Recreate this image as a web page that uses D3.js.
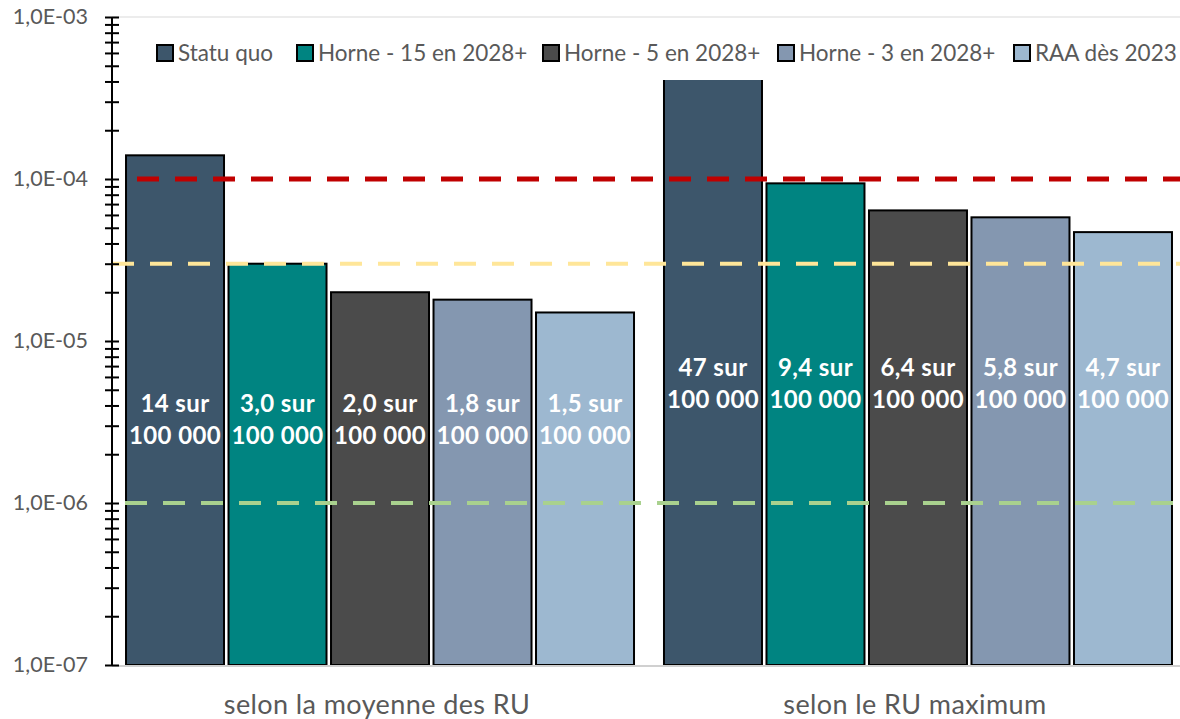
<!DOCTYPE html>
<html><head><meta charset="utf-8">
<script src="https://cdn.jsdelivr.net/npm/d3@7"></script>
<style>
html,body{margin:0;padding:0;background:#fff;}
svg{display:block;font-family:Lato,'Open Sans',sans-serif;}
</style></head>
<body><svg id="chart" width="1180" height="719"></svg>
<script>
const groups = ["selon la moyenne des RU", "selon le RU maximum"];
const series = ["Statu quo", "Horne - 15 en 2028+", "Horne - 5 en 2028+", "Horne - 3 en 2028+", "RAA dès 2023"];
const colors = ["#3d566b", "#008481", "#4b4b4b", "#8497b0", "#9db8d0"];
const valuesMoyenne = [1.4e-4, 3.0e-5, 2.0e-5, 1.8e-5, 1.5e-5];
const valuesMaximum = [4.7e-4, 9.4e-5, 6.4e-5, 5.8e-5, 4.7e-5];
const labelsMoyenne = ["14 sur", "3,0 sur", "2,0 sur", "1,8 sur", "1,5 sur"];
const labelsMaximum = ["47 sur", "9,4 sur", "6,4 sur", "5,8 sur", "4,7 sur"];
const labelDenominator = "100 000";
const refLineValues = [1.0e-4, 3.0e-5, 1.0e-6];
const refLineColors = ["#c00000", "#ffe699", "#a9d18e"];
const yDomain = [1e-7, 1e-3];

const svg = d3.select("#chart");
const M = {left:112, right:1186, top:17, bottom:665};
const y = d3.scaleLog().domain(yDomain).range([M.bottom, M.top]);
const x0 = d3.scaleBand().domain(groups).range([M.left, M.right]).paddingInner(0.052).paddingOuter(0.0242);
const x1 = d3.scaleBand().domain(series).range([0, x0.bandwidth()]).paddingInner(0.0244).paddingOuter(0);

const allValues = [valuesMoyenne, valuesMaximum];
const allLabels = [labelsMoyenne, labelsMaximum];

// top gridline
svg.append("line").attr("x1", M.left).attr("x2", 1180).attr("y1", y(1e-3)).attr("y2", y(1e-3))
  .attr("stroke", "#d9d9d9").attr("stroke-width", 1);

// bars
groups.forEach((g, gi) => {
  const gEl = svg.append("g").attr("transform", `translate(${x0(g)},0)`);
  gEl.selectAll("rect").data(allValues[gi]).join("rect")
    .attr("x", (d, i) => x1(series[i]) + 1)
    .attr("width", x1.bandwidth() - 2)
    .attr("y", d => y(d))
    .attr("height", d => y(yDomain[0]) - y(d))
    .attr("fill", (d, i) => colors[i])
    .attr("stroke", "#000").attr("stroke-width", 2);
});

svg.append("line").attr("x1", M.left).attr("x2", 1180).attr("y1", M.bottom + 1).attr("y2", M.bottom + 1)
  .attr("stroke", "#d0d0d0").attr("stroke-width", 2);

// reference lines
const refStarts = [137, 112, 125];
refLineValues.forEach((v, i) => {
  svg.append("line").attr("x1", refStarts[i]).attr("x2", 1180).attr("y1", y(v)).attr("y2", y(v))
    .attr("stroke", refLineColors[i]).attr("stroke-width", i === 0 ? 5 : 4)
    .attr("stroke-dasharray", "22,16");
});

// bar labels
const labelY = [[403, 435], [367, 399]];
groups.forEach((g, gi) => {
  allLabels[gi].forEach((lab, i) => {
    const cx = x0(g) + x1(series[i]) + x1.bandwidth() / 2;
    const t = svg.append("text").attr("text-anchor", "middle").attr("fill", "#fff")
      .attr("font-size", 24).attr("font-weight", 700).attr("letter-spacing", 0.4);
    t.append("tspan").attr("x", cx).attr("y", labelY[gi][0] + 9).text(lab);
    t.append("tspan").attr("x", cx).attr("y", labelY[gi][1] + 9).text(labelDenominator);
  });
});

// y axis
const fmt = v => {
  const e = Math.round(Math.log10(v));
  const isPow = Math.abs(v / Math.pow(10, e) - 1) < 1e-6;
  if (!isPow) return "";
  return "1,0E-" + String(Math.abs(e)).padStart(2, "0");
};
const yAxis = d3.axisLeft(y).ticks(40).tickFormat(fmt).tickSize(0);
const ax = svg.append("g").attr("transform", `translate(${M.left},0)`).call(yAxis);
ax.select(".domain").remove();
ax.selectAll(".tick line").remove();
ax.selectAll(".tick").append("line").attr("x1", -7).attr("x2", 7).attr("stroke", "#000").attr("stroke-width", 2);
ax.append("line").attr("x1", 0).attr("x2", 0).attr("y1", M.top).attr("y2", M.bottom).attr("stroke", "#000").attr("stroke-width", 2);
ax.selectAll(".tick text").attr("x", -24).attr("fill", "#595959").attr("font-size", 21.5)
  .attr("font-family", "Lato,'Open Sans',sans-serif");

// x labels
svg.selectAll(".xlab").data(groups).join("text").attr("class", "xlab")
  .attr("x", d => x0(d) + x0.bandwidth() / 2 - 3).attr("y", 714)
  .attr("text-anchor", "middle").attr("fill", "#595959").attr("font-size", 27).attr("letter-spacing", 0.4).text(d => d);

// legend
svg.append("rect").attr("x", 150).attr("y", 20).attr("width", 1030).attr("height", 60).attr("fill", "#fff");
const legX = [157, 297, 543, 778, 1014];
series.forEach((s, i) => {
  svg.append("rect").attr("x", legX[i]).attr("y", 45).attr("width", 16).attr("height", 16)
    .attr("fill", colors[i]).attr("stroke", "#000").attr("stroke-width", 2);
  svg.append("text").attr("x", legX[i] + 21).attr("y", 61).attr("fill", "#595959")
    .attr("font-size", 22.5).text(s);
});
</script></body></html>
